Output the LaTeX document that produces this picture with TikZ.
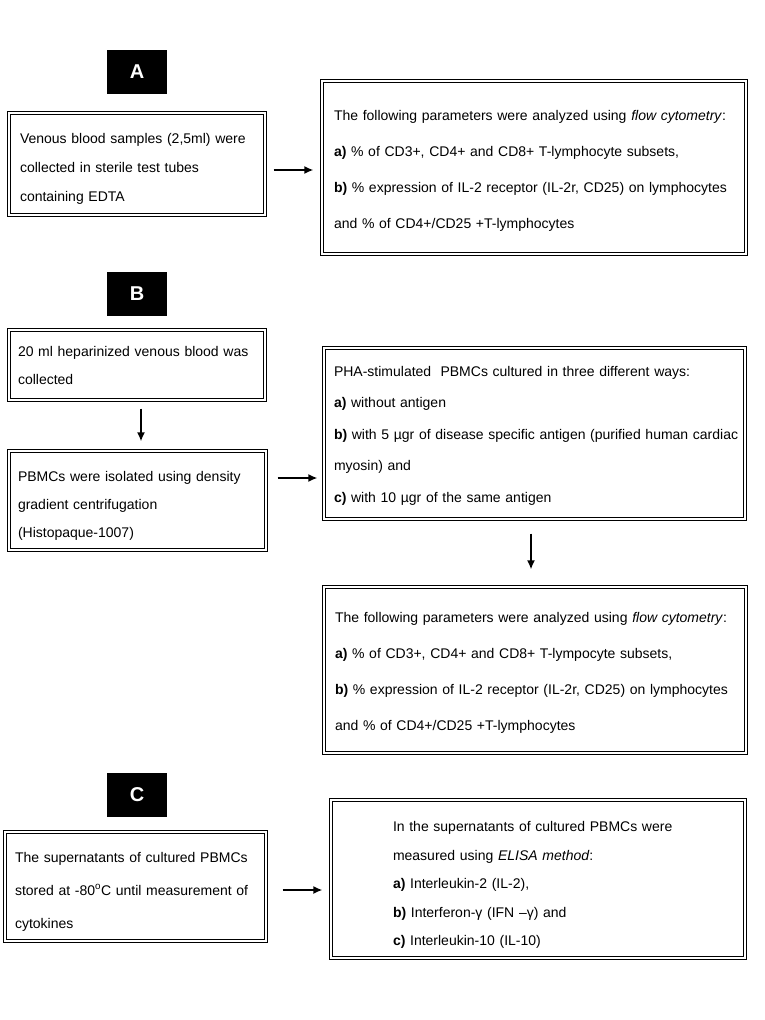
\documentclass[tikz,border=0pt]{standalone}
\usepackage{fontspec}
\setmainfont{Liberation Sans}
\usetikzlibrary{arrows.meta}
\tikzset{
	stage/.style    = {draw, double, double distance=1.6pt, line width=1.1pt,
		rectangle, align=left, inner ysep=0pt},
	tag/.style      = {rectangle, fill=black, text=white, minimum width=60pt,
		minimum height=44pt, font=\fontsize{20}{24}\selectfont\bfseries},
	linegap/.style  = {font=\fontsize{14}{#1}\selectfont}, % line spacing
	textdrop/.style = {execute at begin node={\rule{0pt}{#1}}}, % push text down
	link/.style     = {->, line width=2.2pt} % connector
}

\begin{document}
\begin{tikzpicture}[x=1pt, y=-1pt, >={Latex[length=9pt,width=8pt]}]
	\useasboundingbox (0,0) rectangle (765,1020);
	\draw

	% part A
	node at (137,71.5) [tag] (ta) {A}
	node at (137,164) [stage, linegap=29, textdrop=20pt, inner xsep=11pt, text width=234pt,
		minimum height=102pt] (a1) {Venous blood samples (2,5ml) were\\collected in sterile test tubes\\containing EDTA}
	node at (534,167.5) [stage, linegap=36, textdrop=16pt, inner xsep=12pt, text width=400pt,
		minimum height=173pt] (a2) {The following parameters were analyzed using \textit{flow cytometry}:\\\textbf{a)} \% of CD3+, CD4+ and CD8+ T-lymphocyte subsets,\\\textbf{b)} \% expression of IL-2 receptor (IL-2r, CD25) on lymphocytes\\and \% of CD4+/CD25 +T-lymphocytes}

	% part B
	node at (137,293.5) [tag] (tb) {B}
	node at (137,365) [stage, linegap=28, textdrop=12pt, inner xsep=9pt, text width=238pt,
		minimum height=70pt] (b1) {20 ml heparinized venous blood was\\collected}
	node at (137.5,500.5) [stage, linegap=28, textdrop=20pt, inner xsep=9pt, text width=239pt,
		minimum height=99pt] (b2) {PBMCs were isolated using density\\gradient centrifugation\\(Histopaque-1007)}
	node at (534.5,433.5) [stage, linegap=31.5, textdrop=14pt, inner xsep=10pt, text width=401pt,
		minimum height=171pt] (b3) {PHA-stimulated\ \ PBMCs cultured in three different ways:\\\textbf{a)} without antigen\\\mbox{\textbf{b)} with 5 µgr of disease specific antigen (purified human cardiac}\\myosin) and\\\textbf{c)} with 10 µgr of the same antigen}
	node at (535,670) [stage, linegap=36, textdrop=16pt, inner xsep=11pt, text width=400pt,
		minimum height=166pt] (b4) {The following parameters were analyzed using \textit{flow cytometry}:\\\textbf{a)} \% of CD3+, CD4+ and CD8+ T-lympocyte subsets,\\\textbf{b)} \% expression of IL-2 receptor (IL-2r, CD25) on lymphocytes\\and \% of CD4+/CD25 +T-lymphocytes}

	% part C
	node at (137,795) [tag] (tc) {C}
	node at (135.5,886.5) [stage, linegap=33, textdrop=20pt, inner xsep=10pt, text width=241pt,
		minimum height=109pt] (c1) {The supernatants of cultured PBMCs\\stored at -80\textsuperscript{o}C until measurement of\\cytokines}
	node at (538,879) [stage, linegap=28.5, textdrop=22pt, inner xsep=62pt, text width=290pt,
		minimum height=158pt] (c2) {In the supernatants of cultured PBMCs were\\measured using \textit{ELISA method}:\\\textbf{a)} Interleukin-2 (IL-2),\\\textbf{b)} Interferon-γ (IFN –γ) and\\\textbf{c)} Interleukin-10 (IL-10)};

	\draw[link, shorten <=8pt, shorten >=8pt]([yshift=-6pt]a1.east)--([yshift=-6pt]a1.east -| a2.west);
	\draw[link, shorten <=8pt, shorten >=9pt]([xshift=4pt]b1.south)--([xshift=4pt]b1.south |- b2.north);
	\draw[link, shorten <=11pt, shorten >=6pt]([yshift=22.5pt]b2.east)--([yshift=22.5pt]b2.east -| b3.west);
	\draw[link, shorten <=14pt, shorten >=17pt]([xshift=-3.5pt]b3.south)--([xshift=-3.5pt]b3.south |- b4.north);
	\draw[link, shorten <=16pt, shorten >=8pt]([yshift=-3.5pt]c1.east)--([yshift=-3.5pt]c1.east -| c2.west);
\end{tikzpicture}
\end{document}
